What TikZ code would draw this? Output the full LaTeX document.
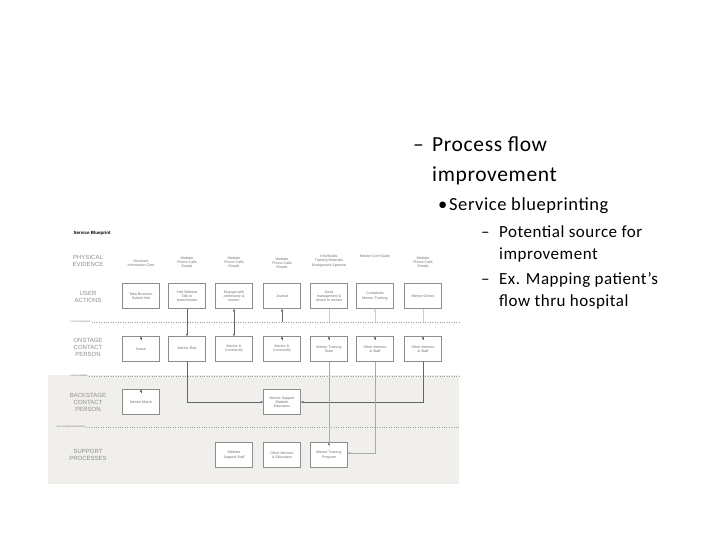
\documentclass[tikz,border=0pt]{standalone}
\usepackage{fontspec}
\setmainfont{Carlito}[LetterSpace=3]
\newfontfamily\bpfont{Liberation Sans}
\usetikzlibrary{arrows.meta}
\definecolor{bpgray}{HTML}{F1EFEC}
\definecolor{bptext}{HTML}{707070}
\begin{document}
\begin{tikzpicture}[x=1pt,y=-1pt,
  bx/.style={draw=bptext!80,line width=0.5pt,fill=white,minimum width=37pt,minimum height=25pt,inner sep=0.5pt,align=center,font=\bpfont\fontsize{3.6}{4.2}\selectfont,text=bptext},
  pe/.style={align=center,font=\bpfont\fontsize{3.6}{4.2}\selectfont,text=bptext},
  lab/.style={align=center,font=\bpfont\fontsize{6}{7}\selectfont,text=bptext!80},
  sep/.style={dotted,bptext!70,line width=0.4pt},
  ln/.style={bptext!90!black,line width=0.5pt},
  ar/.style={ln,-{Latex[length=2.5pt,width=2.5pt]}},
  faint/.style={bptext!35,line width=0.4pt},
  l1/.style={anchor=base west,inner sep=0pt,font=\fontsize{21.5}{30}\selectfont},
  l2/.style={anchor=base west,inner sep=0pt,font=\fontsize{18.5}{22}\selectfont},
  l3/.style={anchor=base west,inner sep=0pt,font=\fontsize{17}{22}\selectfont}]
\useasboundingbox (0,0) rectangle (720,540);
\fill[bpgray] (48,375) rectangle (459,484);
\node[anchor=west,font=\bpfont\bfseries\fontsize{4.5}{5}\selectfont] (title) at (70,233) {Service Blueprint};
% row labels
\node[lab] (rl1) at (88,261) {PHYSICAL\\EVIDENCE};
\node[lab] (rl2) at (88,297) {USER\\ACTIONS};
\node[lab] (rl3) at (88,347) {ONSTAGE\\CONTACT\\PERSON};
\node[lab] (rl4) at (88,402) {BACKSTAGE\\CONTACT\\PERSON};
\node[lab] (rl5) at (88,455) {SUPPORT\\PROCESSES};
% separators
\draw[sep] (70,322) -- (459,322);
\draw[sep] (70,376) -- (459,376);
\draw[sep] (60,427) -- (459,427);
\node[anchor=west,font=\bpfont\itshape\fontsize{2.5}{3}\selectfont,text=bptext,fill=white,inner sep=0.3pt] (s1) at (70,322) {Line of Interaction};
\node[anchor=west,font=\bpfont\itshape\fontsize{2.5}{3}\selectfont,text=bptext,fill=bpgray,inner sep=0.3pt] (s2) at (70,376) {Line of Visibility};
\node[anchor=west,font=\bpfont\itshape\fontsize{2.5}{3}\selectfont,text=bptext,fill=bpgray,inner sep=0.3pt] (s3) at (56,427) {Line of Internal Interaction};
% physical evidence
\node[pe] (p1) at (141,263) {Brochure\\Information Card};
\node[pe] (p2) at (187,262) {Website\\Phone Calls\\Emails};
\node[pe] (p3) at (234,262) {Website\\Phone Calls\\Emails};
\node[pe] (p4) at (282,263) {Website\\Phone Calls\\Emails};
\node[pe] (p5) at (329,261) {Info/Books\\Training Materials\\Background Approva};
\node[pe] (p6) at (375,256) {Mentor Conf Guide};
\node[pe] (p7) at (423,262) {Website\\Phone Calls\\Emails};
% user actions
\node[bx] (u1) at (141,296) {Take Brochure\\Submit Info};
\node[bx] (u2) at (187,296) {Visit Website\\Talk to\\team/mentor};
\node[bx] (u3) at (234,296) {Engage with\\community \&\\mentor};
\node[bx] (u4) at (282,296) {Journal};
\node[bx] (u5) at (329,296) {Good\\management \&\\desire to mentor};
\node[bx] (u6) at (375,296) {Completes\\Mentor Training};
\node[bx] (u7) at (423,296) {Mentor Others};
% onstage
\node[bx] (o1) at (141,349) {Nurse};
\node[bx] (o2) at (187,349) {Mentor Rep};
\node[bx] (o3) at (234,349) {Mentor \&\\Community};
\node[bx] (o4) at (282,349) {Mentor \&\\Community};
\node[bx] (o5) at (329,349) {Mentor Training\\Team};
\node[bx] (o6) at (375,349) {Other Mentors\\\& Staff};
\node[bx] (o7) at (423,349) {Other Mentors\\\& Staff};
% backstage
\node[bx] (b1) at (141,402) {Mentor Match};
\node[bx] (b4) at (282,402) {Mentor Support\\Diabetic\\Educators};
% support
\node[bx] (s3b) at (234,455) {Website\\Support Staff};
\node[bx] (s4b) at (282,455) {Other Mentors\\\& Educators};
\node[bx] (s5b) at (329,455) {Mentor Training\\Program};
% tick arrows
\foreach \n in {o1,o4,o5,o6,o7}{\draw[ar] ([yshift=-4pt]\n.north) -- (\n.north);}
\draw[ar] ([yshift=-4pt]b1.north) -- (b1.north);
\draw[ar] ([yshift=-4pt]s5b.north) -- (s5b.north);
% connectors
\draw[ar] (u2.south) -- (o2.north);
\draw[ar,{Latex[length=2.5pt,width=2.5pt]}-{Latex[length=2.5pt,width=2.5pt]}] (u3.south) -- (o3.north);
\draw[ar] (282,322) -- (u4.south);
\draw[ar,faint] (375,322) -- (u6.south);
\draw[faint] (u5.south) -- (329,322);
\draw[faint] (u7.south) -- (423,322);
\draw[ar] (o2.south) |- (b4.west);
\coordinate (r7) at (423,402);
\draw[ar] (o7.south) -- (r7) -- (b4.east);
\draw[ln,bptext!60] (o5.south) -- ([yshift=-4pt]s5b.north);
\coordinate (r6) at (375,453);
\draw[ar,bptext!60] (o6.south) -- (r6) -- (s5b.east |- r6);
% slide text
\node[l1] (t1) at (413,152) {–};
\node[l1] (t2) at (432,152) {Process flow};
\node[l1] (t2b) at (432,182) {improvement};
\node[l2] (t3) at (438,211) {•};
\node[l2] (t4) at (449,211) {Service blueprinting};
\node[l3] (t5) at (481,237) {–};
\node[l3] (t6) at (499,237) {Potential source for};
\node[l3] (t6b) at (499,259) {improvement};
\node[l3] (t7) at (481,284) {–};
\node[l3] (t8) at (499,284) {Ex. Mapping patient’s};
\node[l3] (t8b) at (499,306) {flow thru hospital};
\end{tikzpicture}
\end{document}
